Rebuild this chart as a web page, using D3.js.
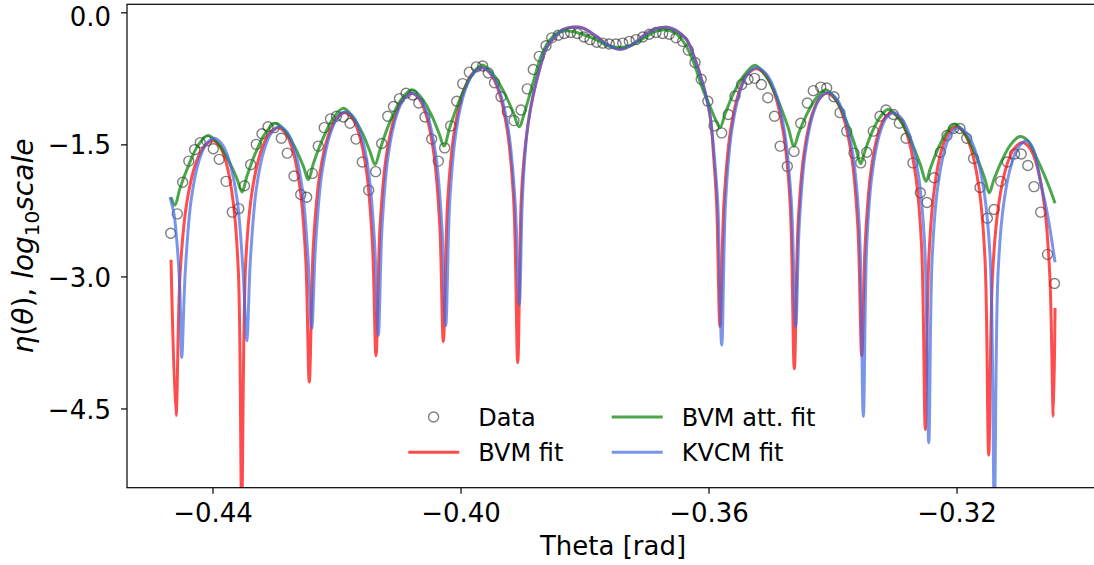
<!DOCTYPE html>
<html>
<head>
<meta charset="utf-8">
<script src="https://cdn.jsdelivr.net/npm/d3@7"></script>
<style>
  body { margin: 0; background: #fff; }
  svg { display: block; }
</style>
</head>
<body>
<svg id="chart" width="1094" height="565"></svg>
<script>
// Measured far-field pattern: angle (rad) and log10 intensity
const dataTheta = [
  -0.44674, -0.44568, -0.44481, -0.44382, -0.44287, -0.44197, -0.44092, -0.43987, -0.43892, -0.43782,
  -0.43681, -0.43577, -0.43484, -0.43384, -0.43294, -0.43202, -0.43105, -0.43005, -0.42890, -0.42794,
  -0.42686, -0.42577, -0.42481, -0.42390, -0.42294, -0.42198, -0.42097, -0.42000, -0.41890, -0.41782,
  -0.41686, -0.41584, -0.41481, -0.41368, -0.41271, -0.41174, -0.41081, -0.40984, -0.40879, -0.40771,
  -0.40673, -0.40573, -0.40465, -0.40358, -0.40255, -0.40158, -0.40061, -0.39965, -0.39858, -0.39745,
  -0.39642, -0.39552, -0.39452, -0.39347, -0.39245, -0.39137, -0.39024, -0.38923, -0.38826, -0.38729,
  -0.38621, -0.38529, -0.38423, -0.38326, -0.38223, -0.38116, -0.38008, -0.37911, -0.37803, -0.37706,
  -0.37600, -0.37492, -0.37384, -0.37277, -0.37169, -0.37061, -0.36955, -0.36847, -0.36739, -0.36632,
  -0.36524, -0.36416, -0.36326, -0.36218, -0.36118, -0.36011, -0.35911, -0.35787, -0.35681, -0.35573,
  -0.35465, -0.35363, -0.35258, -0.35148, -0.35044, -0.34936, -0.34844, -0.34729, -0.34621, -0.34513,
  -0.34406, -0.34310, -0.34190, -0.34094, -0.33976, -0.33879, -0.33771, -0.33653, -0.33545, -0.33448,
  -0.33342, -0.33234, -0.33137, -0.33019, -0.32923, -0.32815, -0.32702, -0.32584, -0.32476, -0.32363,
  -0.32261, -0.32153, -0.32048, -0.31944, -0.31836, -0.31724, -0.31621, -0.31503, -0.31395, -0.31287,
  -0.31181, -0.31064, -0.30956, -0.30850, -0.30750, -0.30642, -0.30532, -0.30419
];
const dataEta = [
  -2.51, -2.29, -1.93, -1.69, -1.56, -1.48, -1.46, -1.55, -1.67, -1.92,
  -2.27, -2.23, -1.97, -1.73, -1.50, -1.38, -1.30, -1.31, -1.43, -1.60,
  -1.86, -2.07, -2.10, -1.83, -1.52, -1.31, -1.21, -1.18, -1.19, -1.26,
  -1.44, -1.70, -2.02, -1.81, -1.49, -1.18, -1.07, -0.98, -0.92, -0.94,
  -1.03, -1.19, -1.44, -1.69, -1.54, -1.29, -1.01, -0.81, -0.68, -0.62,
  -0.61, -0.69, -0.80, -0.96, -1.13, -1.23, -1.11, -0.87, -0.65, -0.50,
  -0.38, -0.29, -0.26, -0.24, -0.23, -0.24, -0.28, -0.31, -0.34, -0.35,
  -0.36, -0.36, -0.35, -0.33, -0.31, -0.28, -0.25, -0.23, -0.24, -0.25,
  -0.29, -0.33, -0.43, -0.57, -0.76, -1.01, -1.29, -1.37, -1.16, -0.95,
  -0.82, -0.76, -0.75, -0.82, -0.97, -1.18, -1.52, -1.75, -1.58, -1.26,
  -1.03, -0.89, -0.85, -0.86, -0.96, -1.14, -1.35, -1.60, -1.71, -1.59,
  -1.35, -1.18, -1.11, -1.16, -1.26, -1.43, -1.71, -2.05, -2.16, -1.88,
  -1.59, -1.40, -1.32, -1.32, -1.43, -1.66, -1.99, -2.34, -2.24, -1.92,
  -1.70, -1.61, -1.61, -1.74, -1.98, -2.27, -2.75, -3.08
];

// BVM fit
const bvmTheta = [
  -0.44669, -0.44589,
  -0.44522, -0.44414, -0.44266, -0.44128, -0.43992, -0.43884, -0.43778, -0.43665, -0.43582,
  -0.43529,
  -0.43462, -0.43356, -0.43210, -0.43075, -0.42939, -0.42824, -0.42709, -0.42586, -0.42496,
  -0.42439,
  -0.42373, -0.42270, -0.42128, -0.41995, -0.41863, -0.41748, -0.41633, -0.41510, -0.41420,
  -0.41363,
  -0.41297, -0.41194, -0.41052, -0.40919, -0.40787, -0.40670, -0.40552, -0.40427, -0.40335,
  -0.40277,
  -0.40206, -0.40095, -0.39943, -0.39800, -0.39658, -0.39524, -0.39391, -0.39248, -0.39143,
  -0.39077,
  -0.39023, -0.38977, -0.38911, -0.38831, -0.38718, -0.38610, -0.38476, -0.38347, -0.38206, -0.38024,
  -0.37815, -0.37621, -0.37427, -0.37234, -0.37056, -0.36863, -0.36674, -0.36492, -0.36352, -0.36245,
  -0.36084, -0.35976, -0.35913, -0.35869,
  -0.35815,
  -0.35749, -0.35644, -0.35501, -0.35368, -0.35234, -0.35092, -0.34950, -0.34798, -0.34686,
  -0.34616,
  -0.34556, -0.34463, -0.34334, -0.34214, -0.34094, -0.33964, -0.33834, -0.33695, -0.33593,
  -0.33529,
  -0.33474, -0.33387, -0.33268, -0.33156, -0.33045, -0.32920, -0.32796, -0.32662, -0.32565,
  -0.32503,
  -0.32447, -0.32357, -0.32236, -0.32122, -0.32008, -0.31887, -0.31766, -0.31636, -0.31541,
  -0.31481,
  -0.31419, -0.31320, -0.31186, -0.31061, -0.30935, -0.30821, -0.30707, -0.30585, -0.30496,
  -0.30439, -0.30411
];
const bvmEta = [
  -2.81, -4.58,
  -2.96, -2.16, -1.71, -1.52, -1.46, -1.52, -1.71, -2.16, -2.96,
  -5.60,
  -2.81, -2.01, -1.56, -1.37, -1.31, -1.37, -1.56, -2.01, -2.81,
  -4.20,
  -2.64, -1.84, -1.39, -1.20, -1.14, -1.20, -1.39, -1.84, -2.64,
  -3.90,
  -2.42, -1.62, -1.17, -0.98, -0.92, -0.98, -1.17, -1.62, -2.42,
  -3.74,
  -2.13, -1.33, -0.88, -0.69, -0.63, -0.69, -0.88, -1.33, -2.13,
  -3.98,
  -2.17, -1.67, -1.27, -0.95, -0.63, -0.40, -0.28, -0.20, -0.17, -0.18,
  -0.27, -0.37, -0.42, -0.37, -0.27, -0.19, -0.17, -0.22, -0.31, -0.48,
  -0.83, -1.17, -1.68, -2.18,
  -3.57,
  -2.14, -1.34, -0.89, -0.70, -0.64, -0.70, -0.89, -1.34, -2.14,
  -4.05,
  -2.42, -1.62, -1.17, -0.98, -0.92, -0.98, -1.17, -1.62, -2.42,
  -3.90,
  -2.64, -1.84, -1.39, -1.20, -1.14, -1.20, -1.39, -1.84, -2.64,
  -4.74,
  -2.80, -2.00, -1.55, -1.36, -1.30, -1.36, -1.55, -2.00, -2.80,
  -5.03,
  -2.98, -2.18, -1.73, -1.54, -1.48, -1.54, -1.73, -2.18, -2.98,
  -4.59, -3.36
];

// BVM fit with attenuation
const attTheta = [
  -0.44669, -0.44605, -0.44525, -0.44392, -0.44232, -0.44073, -0.43908, -0.43744, -0.43606, -0.43524,
  -0.43444, -0.43308, -0.43145, -0.42984, -0.42826, -0.42666, -0.42534, -0.42455, -0.42369, -0.42229,
  -0.42060, -0.41890, -0.41737, -0.41584, -0.41456, -0.41379, -0.41290, -0.41142, -0.40965, -0.40787,
  -0.40631, -0.40474, -0.40344, -0.40266, -0.40174, -0.40023, -0.39840, -0.39658, -0.39477, -0.39297,
  -0.39147, -0.39056, -0.38960, -0.38826, -0.38690, -0.38556, -0.38427, -0.38282, -0.38073, -0.37815,
  -0.37621, -0.37427, -0.37234, -0.37056, -0.36863, -0.36674, -0.36508, -0.36363, -0.36234, -0.36105,
  -0.35976, -0.35879, -0.35815, -0.35730, -0.35589, -0.35419, -0.35250, -0.35061, -0.34873, -0.34715,
  -0.34621, -0.34544, -0.34415, -0.34260, -0.34105, -0.33937, -0.33769, -0.33629, -0.33545, -0.33479,
  -0.33368, -0.33234, -0.33100, -0.32918, -0.32736, -0.32584, -0.32492, -0.32421, -0.32305, -0.32165,
  -0.32024, -0.31858, -0.31692, -0.31553, -0.31471, -0.31397, -0.31273, -0.31124, -0.30976, -0.30847,
  -0.30718, -0.30589, -0.30492, -0.30411
];
const attEta = [
  -2.10, -2.19, -2.00, -1.75, -1.51, -1.40, -1.49, -1.68, -1.89, -2.04,
  -1.86, -1.60, -1.37, -1.26, -1.35, -1.54, -1.75, -1.90, -1.71, -1.45,
  -1.21, -1.09, -1.19, -1.37, -1.59, -1.73, -1.54, -1.25, -1.00, -0.88,
  -0.97, -1.16, -1.38, -1.52, -1.31, -1.01, -0.74, -0.60, -0.70, -0.91,
  -1.14, -1.30, -1.12, -0.79, -0.48, -0.31, -0.23, -0.21, -0.24, -0.31,
  -0.38, -0.40, -0.37, -0.30, -0.22, -0.20, -0.25, -0.38, -0.58, -0.85,
  -1.07, -1.23, -1.31, -1.15, -0.91, -0.71, -0.60, -0.74, -1.01, -1.31,
  -1.52, -1.37, -1.16, -0.97, -0.88, -1.00, -1.25, -1.53, -1.72, -1.58,
  -1.37, -1.19, -1.10, -1.22, -1.46, -1.73, -1.92, -1.77, -1.56, -1.37,
  -1.27, -1.39, -1.62, -1.87, -2.05, -1.90, -1.69, -1.50, -1.41, -1.46,
  -1.64, -1.84, -2.01, -2.17
];

// KVCM fit
const kvcmTheta = [
  -0.44686, -0.44621, -0.44565, -0.44527,
  -0.44497,
  -0.44438, -0.44344, -0.44216, -0.44096, -0.43976, -0.43855, -0.43733, -0.43603, -0.43508,
  -0.43448,
  -0.43388, -0.43292, -0.43162, -0.43041, -0.42919, -0.42800, -0.42680, -0.42553, -0.42459,
  -0.42400,
  -0.42337, -0.42237, -0.42101, -0.41974, -0.41847, -0.41727, -0.41607, -0.41479, -0.41385,
  -0.41326,
  -0.41264, -0.41166, -0.41032, -0.40907, -0.40782, -0.40657, -0.40532, -0.40399, -0.40301,
  -0.40239,
  -0.40172, -0.40067, -0.39923, -0.39788, -0.39653, -0.39515, -0.39377, -0.39229, -0.39121,
  -0.39052,
  -0.39005, -0.38966, -0.38911, -0.38831, -0.38718, -0.38610, -0.38476, -0.38347, -0.38206, -0.38024,
  -0.37815, -0.37621, -0.37427, -0.37234, -0.37056, -0.36863, -0.36674, -0.36492, -0.36352, -0.36245,
  -0.36084, -0.35976, -0.35902, -0.35850,
  -0.35787,
  -0.35723, -0.35622, -0.35484, -0.35355, -0.35226, -0.35081, -0.34935, -0.34780, -0.34666,
  -0.34594,
  -0.34536, -0.34443, -0.34317, -0.34199, -0.34081, -0.33948, -0.33815, -0.33673, -0.33569,
  -0.33503,
  -0.33448, -0.33362, -0.33244, -0.33134, -0.33024, -0.32892, -0.32759, -0.32617, -0.32514,
  -0.32448,
  -0.32394, -0.32308, -0.32190, -0.32081, -0.31971, -0.31837, -0.31704, -0.31561, -0.31456,
  -0.31390,
  -0.31330, -0.31237, -0.31108, -0.30988, -0.30868, -0.30758, -0.30653, -0.30540, -0.30460, -0.30411
];
const kvcmEta = [
  -2.10, -2.29, -2.69, -3.14,
  -3.92,
  -2.93, -2.13, -1.68, -1.49, -1.43, -1.49, -1.68, -2.13, -2.93,
  -3.73,
  -2.80, -2.00, -1.55, -1.36, -1.30, -1.36, -1.55, -2.00, -2.80,
  -3.59,
  -2.63, -1.83, -1.38, -1.19, -1.13, -1.19, -1.38, -1.83, -2.63,
  -3.67,
  -2.42, -1.62, -1.17, -0.98, -0.92, -0.98, -1.17, -1.62, -2.42,
  -3.56,
  -2.13, -1.33, -0.88, -0.69, -0.63, -0.69, -0.88, -1.33, -2.13,
  -3.32,
  -2.17, -1.67, -1.27, -0.95, -0.63, -0.40, -0.28, -0.20, -0.17, -0.18,
  -0.27, -0.37, -0.42, -0.37, -0.27, -0.19, -0.17, -0.22, -0.31, -0.48,
  -0.83, -1.17, -1.68, -2.18,
  -3.78,
  -2.13, -1.33, -0.88, -0.69, -0.63, -0.69, -0.88, -1.33, -2.13,
  -3.57,
  -2.41, -1.61, -1.16, -0.97, -0.91, -0.97, -1.16, -1.61, -2.41,
  -4.59,
  -2.64, -1.84, -1.39, -1.20, -1.14, -1.20, -1.39, -1.84, -2.64,
  -4.89,
  -2.81, -2.01, -1.56, -1.37, -1.31, -1.37, -1.56, -2.01, -2.81,
  -5.60,
  -2.96, -2.16, -1.71, -1.52, -1.46, -1.56, -1.90, -2.27, -2.61, -2.84
];

const xTicks = [-0.44, -0.40, -0.36, -0.32];
const yTicks = [0.0, -1.5, -3.0, -4.5];
const xLabel = "Theta [rad]";

const FONT = "'DejaVu Sans', 'Liberation Sans', sans-serif";
const svg = d3.select("#chart");
const frame = { left: 127, right: 1099, top: 4.3, bottom: 487.7 };

const x = d3.scaleLinear().domain([-0.45379, -0.29702]).range([frame.left, frame.right]);
const y = d3.scaleLinear().domain([-5.40, 0.091]).range([frame.bottom, frame.top]);

const pairs = (a, b) => d3.zip(a.slice(0, Math.min(a.length, b.length)), b);

svg.append("defs").append("clipPath").attr("id", "plot-clip")
  .append("rect")
  .attr("x", frame.left).attr("y", frame.top)
  .attr("width", frame.right - frame.left).attr("height", frame.bottom - frame.top);

const plot = svg.append("g").attr("clip-path", "url(#plot-clip)");

// measured points
plot.append("g").selectAll("circle")
  .data(pairs(dataTheta, dataEta))
  .join("circle")
  .attr("cx", d => x(d[0]))
  .attr("cy", d => y(d[1]))
  .attr("r", 5)
  .attr("fill", "none")
  .attr("stroke", "#000")
  .attr("stroke-opacity", 0.5)
  .attr("stroke-width", 1.4);

const line = d3.line()
  .x(d => x(d[0]))
  .y(d => y(d[1]))
  .curve(d3.curveCatmullRom.alpha(0.5));

const series = [
  { t: bvmTheta, e: bvmEta, color: "#ff0000" },
  { t: attTheta, e: attEta, color: "#008000" },
  { t: kvcmTheta, e: kvcmEta, color: "#4169e1" }
];
series.forEach(s => {
  plot.append("path")
    .datum(pairs(s.t, s.e))
    .attr("d", line)
    .attr("fill", "none")
    .attr("stroke", s.color)
    .attr("stroke-opacity", 0.7)
    .attr("stroke-width", 3)
    .attr("stroke-linejoin", "round");
});

// axes
const gx = svg.append("g")
  .attr("transform", `translate(0,${frame.bottom})`)
  .call(d3.axisBottom(x).tickValues(xTicks).tickFormat(d3.format(".2f"))
    .tickSize(6).tickSizeOuter(0).tickPadding(10));
const gy = svg.append("g")
  .attr("transform", `translate(${frame.left},0)`)
  .call(d3.axisLeft(y).tickValues(yTicks).tickFormat(d3.format(".1f"))
    .tickSize(6).tickSizeOuter(0).tickPadding(10));
[gx, gy].forEach(g => {
  g.select(".domain").remove();
  g.attr("font-family", FONT).attr("font-size", 26);
  g.selectAll(".tick line").attr("stroke", "#000").attr("stroke-width", 1.2);
  g.selectAll(".tick text").attr("fill", "#000");
});
// the topmost label sits against the upper edge, so it is nudged down a little
gy.selectAll(".tick text").attr("dy", d => d === 0 ? "0.52em" : "0.37em");

// frame
svg.append("rect")
  .attr("x", frame.left).attr("y", frame.top)
  .attr("width", frame.right - frame.left).attr("height", frame.bottom - frame.top)
  .attr("fill", "none").attr("stroke", "#000").attr("stroke-width", 1.2);

// axis titles
svg.append("text")
  .attr("x", (frame.left + frame.right) / 2).attr("y", 555)
  .attr("text-anchor", "middle")
  .attr("font-family", FONT).attr("font-size", 26).attr("fill", "#000")
  .text(xLabel);

const yl = svg.append("text")
  .attr("transform", `translate(33,${(frame.top + frame.bottom) / 2}) rotate(-90)`)
  .attr("text-anchor", "middle")
  .attr("font-family", FONT).attr("font-size", 28).attr("fill", "#000");
yl.append("tspan").attr("font-style", "italic").text("η");
yl.append("tspan").text("(");
yl.append("tspan").attr("font-style", "italic").text("θ");
yl.append("tspan").text("), ");
yl.append("tspan").attr("font-style", "italic").text("log");
yl.append("tspan").attr("font-size", 20).attr("dy", 6).text("10");
yl.append("tspan").attr("font-style", "italic").attr("dy", -6).text("scale");

// legend
const legend = svg.append("g").attr("font-family", FONT).attr("font-size", 24).attr("fill", "#000");
const legendItems = [
  { label: "Data", kind: "marker", color: "#000", lx: 408.3, row: 0 },
  { label: "BVM fit", kind: "line", color: "#ff0000", lx: 408.3, row: 1 },
  { label: "BVM att. fit", kind: "line", color: "#008000", lx: 611.7, row: 0 },
  { label: "KVCM fit", kind: "line", color: "#4169e1", lx: 611.7, row: 1 }
];
const rowY = [417, 452.3];
legendItems.forEach(it => {
  const cy = rowY[it.row];
  if (it.kind === "marker") {
    legend.append("circle").attr("cx", it.lx + 25.3).attr("cy", cy).attr("r", 5)
      .attr("fill", "none").attr("stroke", "#000").attr("stroke-opacity", 0.5).attr("stroke-width", 1.4);
  } else {
    legend.append("line").attr("x1", it.lx).attr("x2", it.lx + 51).attr("y1", cy).attr("y2", cy)
      .attr("stroke", it.color).attr("stroke-opacity", 0.7).attr("stroke-width", 3);
  }
  legend.append("text").attr("x", it.lx + 70).attr("y", cy + 8.7).text(it.label);
});
</script>
</body>
</html>
